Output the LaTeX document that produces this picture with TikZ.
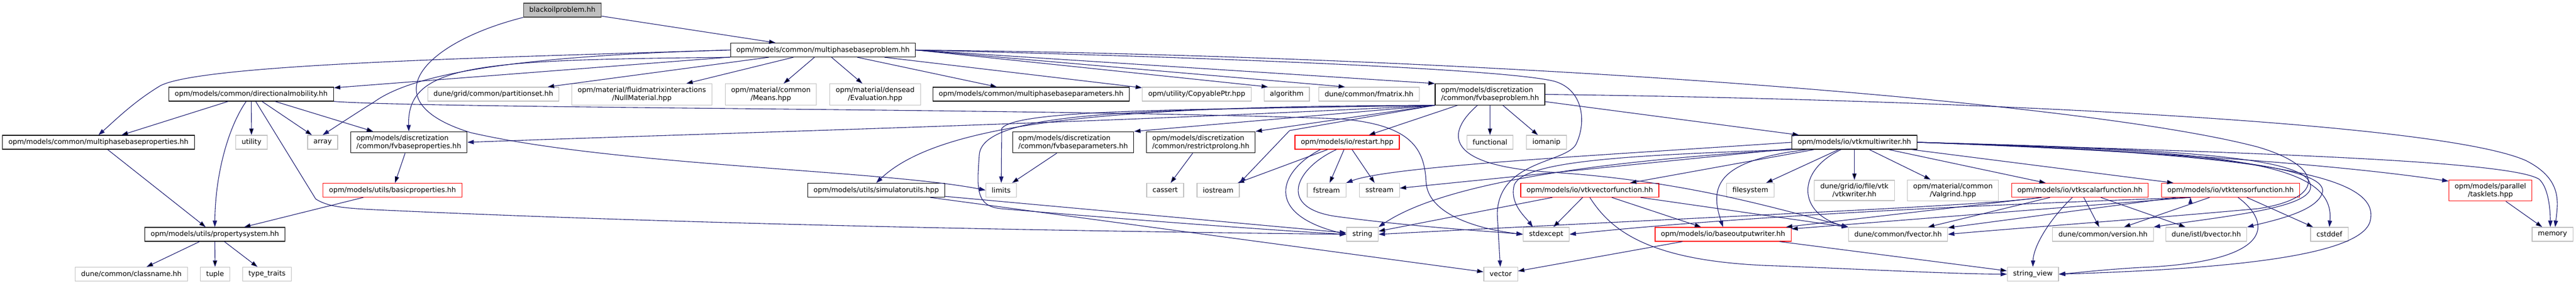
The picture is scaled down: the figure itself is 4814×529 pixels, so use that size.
\documentclass[tikz,border=0pt]{standalone}
\usepackage{fontspec}
\setmainfont{DejaVu Sans}
\usetikzlibrary{arrows.meta}
\definecolor{edgeblue}{HTML}{191970}
\definecolor{boxgray}{HTML}{BFBFBF}
\definecolor{rootedge}{HTML}{404040}

\begin{document}
\begin{tikzpicture}[->,>={Triangle[length=12pt,width=8pt]},x=1pt,y=-1pt,
  dep/.style={draw=edgeblue,line width=1.1pt},
  file node/.style={rectangle,draw=black,line width=1.2pt,fill=white,minimum height=26pt,
    inner xsep=11pt,inner ysep=6pt,font=\fontsize{13}{15}\selectfont},
  sys node/.style={file node,draw=boxgray},
  red node/.style={file node,draw=red},
  root node/.style={file node,draw=rootedge,fill=boxgray}]

  \useasboundingbox (0,0) rectangle (4814,529);

  \node[root node] (root) at (1051,19) {blackoilproblem.hh};
  \node[file node] (mbprob) at (1538,93.5) {opm/models/common/multiphasebaseproblem.hh};

  \node[file node] (dirmob) at (469.5,176) {opm/models/common/directionalmobility.hh};
  \node[sys node] (partset) at (922,176) {dune/grid/common/partitionset.hh};
  \node[sys node,align=center] (nullmat) at (1199.5,176.5) {opm/material/fluidmatrixinteractions\\/NullMaterial.hpp};
  \node[sys node,align=center] (means) at (1440.5,176.5) {opm/material/common\\/Means.hpp};
  \node[sys node,align=center] (evaluation) at (1635.5,176.5) {opm/material/densead\\/Evaluation.hpp};
  \node[file node] (mbparams) at (1927,176) {opm/models/common/multiphasebaseparameters.hh};
  \node[sys node] (copyptr) at (2236.5,176) {opm/utility/CopyablePtr.hpp};
  \node[sys node] (algorithm) at (2404.5,176) {algorithm};
  \node[sys node] (fmatrix) at (2558.5,176) {dune/common/fmatrix.hh};
  \node[file node,align=left] (fvbprob) at (2784.5,176.5) {opm/models/discretization\\/common/fvbaseproblem.hh};

  \node[file node] (mbprops) at (184,266) {opm/models/common/multiphasebaseproperties.hh};
  \node[sys node] (utility) at (470,266) {utility};
  \node[sys node] (array) at (603,266) {array};
  \node[file node,align=left] (fvbprops) at (764,266) {opm/models/discretization\\/common/fvbaseproperties.hh};
  \node[file node,align=left] (fvbparams) at (2005.5,266) {opm/models/discretization\\/common/fvbaseparameters.hh};
  \node[file node,align=left] (restrict) at (2244,266) {opm/models/discretization\\/common/restrictprolong.hh};
  \node[red node] (restart) at (2517.5,266) {opm/models/io/restart.hpp};
  \node[sys node] (functional) at (2784.5,266) {functional};
  \node[sys node] (iomanip) at (2890,266) {iomanip};
  \node[file node] (vtkmw) at (3465.5,266) {opm/models/io/vtkmultiwriter.hh};

  \node[red node] (basicprops) at (733.5,355.5) {opm/models/utils/basicproperties.hh};
  \node[file node] (simutils) at (1637.5,355.5) {opm/models/utils/simulatorutils.hpp};
  \node[sys node] (limits) at (1871,355.5) {limits};
  \node[sys node] (cassert) at (2177.5,355.5) {cassert};
  \node[sys node] (iostream) at (2276.5,355.5) {iostream};
  \node[sys node] (fstream) at (2479,355.5) {fstream};
  \node[sys node] (sstream) at (2578,355.5) {sstream};
  \node[red node] (vtkvec) at (2971,355.5) {opm/models/io/vtkvectorfunction.hh};
  \node[sys node] (filesystem) at (3271,355.5) {filesystem};
  \node[sys node,align=center] (vtkwriter) at (3465.5,356) {dune/grid/io/file/vtk\\/vtkwriter.hh};
  \node[sys node,align=center] (valgrind) at (3649.5,356) {opm/material/common\\/Valgrind.hpp};
  \node[red node] (vtkscalar) at (3887,355.5) {opm/models/io/vtkscalarfunction.hh};
  \node[red node] (vtktensor) at (4168.5,355.5) {opm/models/io/vtktensorfunction.hh};
  \node[red node,align=center] (tasklets) at (4654,356) {opm/models/parallel\\/tasklets.hpp};

  \node[file node] (propsys) at (401.5,438) {opm/models/utils/propertysystem.hh};
  \node[sys node] (string) at (2546,438) {string};
  \node[sys node] (stdexcept) at (2889.5,438) {stdexcept};
  \node[red node] (baseout) at (3220,438) {opm/models/io/baseoutputwriter.hh};
  \node[sys node] (fvector) at (3547,438) {dune/common/fvector.hh};
  \node[sys node] (version) at (3930,438) {dune/common/version.hh};
  \node[sys node] (bvector) at (4123,438) {dune/istl/bvector.hh};
  \node[sys node] (cstddef) at (4353,438) {cstddef};
  \node[sys node] (memory) at (4770,438) {memory};

  \node[sys node] (classname) at (245.5,512.5) {dune/common/classname.hh};
  \node[sys node] (tuple) at (402,512.5) {tuple};
  \node[sys node] (typetraits) at (499,512.5) {type\_traits};
  \node[sys node] (vector) at (2804.5,512.5) {vector};
  \node[sys node] (stringview) at (3799,512.5) {string\_view};

  \path[dep]
    (root) edge (mbprob)
    (mbprob) edge (dirmob)
    (mbprob) edge (partset)
    (mbprob) edge (nullmat)
    (mbprob) edge (means)
    (mbprob) edge (evaluation)
    (mbprob) edge (mbparams)
    (mbprob) edge (copyptr)
    (mbprob.east) edge ([xshift=8pt]algorithm.north west)
    (mbprob.east) edge ([xshift=-45pt]fmatrix.north)
    (mbprob.east) edge (fvbprob.north west)
    (dirmob) edge (mbprops)
    (dirmob) edge (utility)
    (dirmob) edge (array)
    (dirmob) edge (fvbprops)
    (mbprops) edge (propsys)
    (fvbprops) edge (basicprops)
    (basicprops) edge (propsys)
    (propsys) edge (classname)
    (propsys) edge (tuple)
    (propsys) edge (typetraits)
    (fvbprob) edge (restart)
    (fvbprob) edge (functional)
    (fvbprob) edge (iomanip)
    (fvbprob) edge (vtkmw)
    (fvbprob.south west) edge (fvbparams.north east)
    (fvbprob.south west) edge (restrict.north east)
    (fvbparams) edge (limits)
    (restrict) edge (cassert)
    (restart) edge (iostream)
    (restart) edge (fstream)
    (restart) edge (sstream)
    (simutils) edge (string)
    (simutils) edge (vector)
    (vtkmw) edge (sstream)
    (vtkmw) edge (vtkvec)
    (vtkmw) edge (filesystem)
    (vtkmw) edge (vtkwriter)
    (vtkmw) edge (valgrind)
    (vtkmw) edge (vtkscalar)
    (vtkmw) edge (vtktensor)
    (vtkvec) edge (string)
    (vtkvec) edge (stdexcept)
    (vtkvec) edge (baseout)
    (vtkvec) edge (fvector)
    (baseout) edge (vector)
    (baseout) edge (stringview)
    (vtkscalar) edge (fvector)
    (vtkscalar) edge (version)
    (vtkscalar) edge (bvector)
    ([xshift=-72pt]vtkscalar.south) edge (baseout)
    (vtktensor) edge (fvector)
    (vtktensor) edge (version)
    (vtktensor) edge (cstddef)
    ([xshift=-75pt]vtktensor.south) edge (baseout)
    (tasklets) edge (memory);

  \draw[dep] (root.south west) .. controls (790,80) and (690,190) .. (880,248)
    .. controls (1150,310) and (1650,318) .. (limits.west);
  \draw[dep] (mbprob.west) .. controls (900,108) and (380,120) .. (300,160)
    .. controls (250,190) and (215,225) .. (mbprops.north);
  \draw[dep] (mbprob.west) .. controls (950,105) and (770,140) .. (700,190)
    .. controls (660,215) and (630,235) .. (array.north);
  \draw[dep] (mbprob.south west) .. controls (900,112) and (760,118) .. (fvbprops.north);
  \draw[dep] (mbprob.east) .. controls (2300,108) and (2820,130) .. (2905,152)
    .. controls (2960,168) and (2965,230) .. (2945,270)
    .. controls (2925,305) and (2800,300) .. (2798,400) -- (vector);
  \draw[dep] (mbprob.east) .. controls (2800,105) and (3900,190) .. (4220,275)
    .. controls (4340,310) and (4350,370) .. (4220,390)
    .. controls (4000,410) and (3750,428) .. (fvector.east);

  \draw[dep] (dirmob) .. controls (425,240) and (402,330) .. (propsys.north);
  \draw[dep] (dirmob) -- (590,372) .. controls (612,386) and (640,389) .. (700,392)
    .. controls (1300,420) and (2000,432) .. (string.west);
  \draw[dep] (dirmob.south east) .. controls (800,203) and (2000,203) .. (2500,222)
    .. controls (2640,232) and (2662,280) .. (2665,340)
    .. controls (2668,400) and (2760,428) .. (stdexcept.west);

  \draw[dep] (fvbprob.south west) .. controls (2000,232) and (1300,250) .. (fvbprops.east);
  \draw[dep] (fvbprob.south west) .. controls (2200,205) and (1900,205) .. (1872,240) -- (limits);
  \draw[dep] (fvbprob.south west) .. controls (2100,198) and (1760,225) .. (simutils.north);
  \draw[dep] (fvbprob.south west) .. controls (2150,205) and (1835,205) .. (1830,290)
    .. controls (1826,350) and (1822,385) .. (1870,390)
    .. controls (2100,410) and (2400,432) .. (string.west);
  \draw[dep] (fvbprob.south west) -- (2410,244) -- (iostream.north east);
  \draw[dep] (fvbprob) .. controls (2700,250) and (2700,310) .. (2900,322)
    .. controls (3150,338) and (3320,390) .. (fvector.north west);
  \draw[dep] (fvbprob.east) .. controls (3600,185) and (4550,225) .. (4720,300)
    .. controls (4790,335) and (4780,380) .. ([xshift=5pt]memory.north);

  \draw[dep] ([xshift=-50pt]restart.south) .. controls (2390,320) and (2360,400) .. (string.west);
  \draw[dep] ([xshift=-20pt]restart.south) .. controls (2420,315) and (2385,390) .. (2500,405)
    .. controls (2650,425) and (2780,432) .. (stdexcept.west);

  \draw[dep] (vtkmw.west) .. controls (3000,290) and (2600,310) .. (fstream.north east);
  \draw[dep] (vtkmw.south west) .. controls (3000,300) and (2700,340) .. (string.north east);
  \draw[dep] (vtkmw.south west) .. controls (3050,290) and (2850,300) .. (2830,345)
    .. controls (2820,380) and (2850,405) .. ([xshift=-25pt]stdexcept.north);
  \draw[dep] ([xshift=-88pt]vtkmw.south) .. controls (3205,300) and (3195,350) .. (baseout.north);
  \draw[dep] ([xshift=-25pt]vtkmw.south) .. controls (3355,320) and (3360,400) .. (fvector.north west);
  \draw[dep] (vtkmw.east) .. controls (4000,282) and (4350,305) .. ([yshift=-3pt]tasklets.north west);
  \draw[dep] (vtkmw.east) .. controls (4200,285) and (4690,300) .. (4745,335)
    .. controls (4762,350) and (4766,390) .. ([xshift=-4pt]memory.north);
  \draw[dep] (vtkmw.east) .. controls (4150,282) and (4365,300) .. (cstddef.north);
  \draw[dep] (vtkmw.east) .. controls (4200,285) and (4350,320) .. (4340,360)
    .. controls (4330,395) and (4250,412) .. (bvector.north east);
  \draw[dep] (vtkmw.east) .. controls (4250,288) and (4445,330) .. (4430,410)
    .. controls (4420,480) and (4150,503) .. (stringview.east);
  \draw[dep] (vtkmw.east) .. controls (4150,280) and (4320,300) .. (4318,350)
    .. controls (4316,390) and (4150,405) .. (version.north east);

  \draw[dep] (vtkvec.south) .. controls (3010,430) and (3080,490) .. (3320,497)
    .. controls (3520,505) and (3650,512) .. (stringview.west);
  \draw[dep] (vtkscalar) .. controls (3830,410) and (3800,460) .. (stringview.north);
  \draw[dep] ([xshift=-72pt]vtkscalar.south) .. controls (3700,385) and (3300,400) .. (string.east);
  \draw[dep] ([xshift=14pt]vtktensor.south) .. controls (4250,420) and (4245,490) .. (4000,500)
    .. controls (3930,504) and (3880,510) .. (stringview.east);
  \draw[dep] ([xshift=-75pt]vtktensor.south) .. controls (3500,390) and (3150,415) .. (stdexcept.east);
\end{tikzpicture}
\end{document}
